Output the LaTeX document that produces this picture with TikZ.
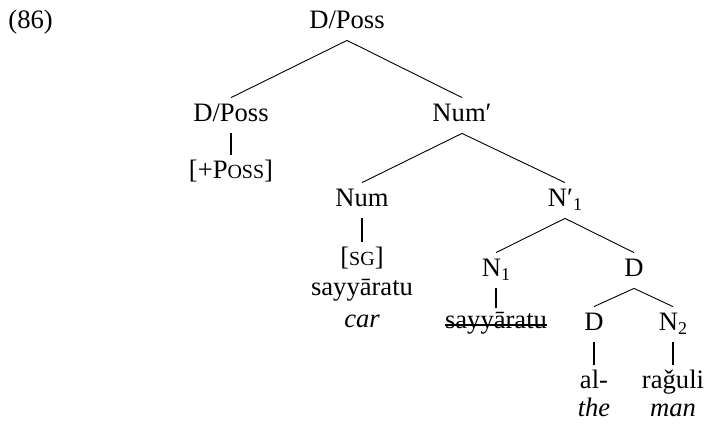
\documentclass[tikz,border=0pt]{standalone}
\usepackage{fontspec}
\setmainfont{Liberation Serif}
\usepackage{tikz}
\usetikzlibrary{positioning}
\newcommand{\treefont}{\fontsize{13.3}{16}\selectfont}
\newcommand{\lowcaps}[1]{{\fontsize{10}{12}\selectfont #1}}
\newcommand{\lsub}[1]{\raisebox{-2pt}{\fontsize{9}{10}\selectfont #1}}
\tikzset{
	catnode/.style={
			anchor=base,
			inner xsep=0pt,
			inner ysep=2.7pt,
			text height=8.8pt,
			text depth=3.3pt,
			font=\treefont
		},
	glossnode/.style={
			catnode,
			font=\treefont\itshape
		},
	branch/.style={
			line width=0.45pt
		},
	stem/.style={
			line width=1.1pt
		}
}

\begin{document}
\begin{tikzpicture}[x=0.5pt, y=-0.5pt]
				\useasboundingbox (0,0) rectangle (706,423);

				\node[catnode, anchor=base west] (exno) at (8,28) {(86)};

				\node[catnode] (dp0) at (347,28) {D/Poss};
				\node[catnode] (dp1) at (231,121) {D/Poss};
				\node[catnode] (numbar) at (462,121) {Num′};
				\node[catnode] (poss) at (231,178) {[+P\lowcaps{OSS}]};
				\node[catnode] (num) at (362,206) {Num};
				\node[catnode] (nbar) at (565,206) {N′\lsub{1}};
				\node[catnode] (sg) at (362,265) {[\lowcaps{SG}]};
				\node[catnode] (car1) at (362,295) {sayyāratu};
				\node[glossnode] (car2) at (362,327) {car};
				\node[catnode] (n1) at (496,276) {N\lsub{1}};
				\node[catnode] (dupper) at (634,276) {D};
				\node[catnode, text height=7.3pt] (strk) at (496,328) {sayyāratu};
				\node[catnode] (dlower) at (594,330) {D};
				\node[catnode] (n2) at (673,330) {N\lsub{2}};
				\node[catnode] (al1) at (594,388) {al-};
				\node[catnode] (man1) at (673,388) {raǧuli};
				\node[glossnode] (al2) at (594,416) {the};
				\node[glossnode] (man2) at (673,416) {man};

				\draw[branch] (dp0.south) -- (dp1.north);
				\draw[branch] (dp0.south) -- (numbar.north);
				\draw[branch] (numbar.south) -- (num.north);
				\draw[branch] (numbar.south) -- (nbar.north);
				\draw[branch] (nbar.south) -- (n1.north);
				\draw[branch] (nbar.south) -- (dupper.north);
				\draw[branch] (dupper.south) -- (dlower.north);
				\draw[branch] (dupper.south) -- (n2.north);

				\draw[stem] (dp1.south) -- (poss.north);
				\draw[stem] (num.south) -- (sg.north);
				\draw[stem] (n1.south) -- (strk.north);
				\draw[stem] (dlower.south) -- (al1.north);
				\draw[stem] (n2.south) -- (man1.north);

				\draw[line width=0.9pt] ([yshift=1.5pt]strk.base west) -- ([yshift=1.5pt]strk.base east);

			\end{tikzpicture}
\end{document}
